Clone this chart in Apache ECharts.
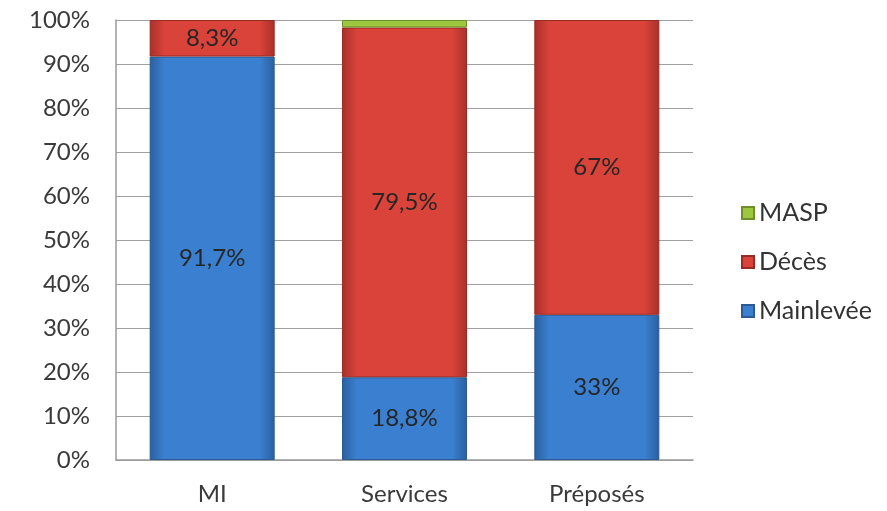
<!DOCTYPE html>
<html><head><meta charset="utf-8">
<script src="https://cdn.jsdelivr.net/npm/echarts@6/dist/echarts.min.js"></script>
<style>html,body{margin:0;padding:0;background:#fff}#c{width:887px;height:511px}</style>
</head><body><div id="c"></div>
<script>
const categories = ['MI', 'Services', 'Préposés'];
const mainlevee = [91.7, 18.8, 33];
const deces = [8.3, 79.5, 67];
const masp = [0, 1.7, 0];
const mainleveeLabels = ['91,7%', '18,8%', '33%'];
const decesLabels = ['8,3%', '79,5%', '67%'];
const yTicks = [0, 10, 20, 30, 40, 50, 60, 70, 80, 90, 100];

const grad = (m, d) => new echarts.graphic.LinearGradient(0, 0, 1, 0, [
  {offset: 0, color: d}, {offset: 0.12, color: m}, {offset: 0.88, color: m}, {offset: 1, color: d}
]);
const font = 'Lato, "Open Sans", sans-serif';
const chart = echarts.init(document.getElementById('c'));
const lbl = (arr) => ({show: true, position: 'inside', fontFamily: font, fontSize: 24, color: '#262626',
  formatter: p => arr[p.dataIndex]});
chart.setOption({
  animation: false,
  grid: {left: 116, right: 194, top: 20, bottom: 51},
  legend: {
    orient: 'vertical', left: 736, top: 195, itemGap: 23, itemWidth: 12, itemHeight: 12,
    icon: 'rect',
    textStyle: {fontFamily: font, fontSize: 25, lineHeight: 26, color: '#333'},
    data: ['MASP', 'Décès', 'Mainlevée']
  },
  xAxis: {
    type: 'category', data: categories,
    axisLine: {lineStyle: {color: '#9a9a9a', width: 1.5}},
    axisTick: {show: false},
    axisLabel: {fontFamily: font, fontSize: 24, color: '#3a3a3a', margin: 22}
  },
  yAxis: {
    type: 'value', min: 0, max: 100, interval: 10,
    axisLine: {show: true, lineStyle: {color: '#9a9a9a', width: 1.5}},
    axisTick: {show: false},
    splitLine: {lineStyle: {color: '#a0a0a0', width: 1.2}},
    axisLabel: {fontFamily: font, fontSize: 24, color: '#3a3a3a', margin: 26,
      formatter: v => yTicks.includes(v) ? v + '%' : ''}
  },
  series: [
    {name: 'Mainlevée', type: 'bar', stack: 's', barWidth: '65%', data: mainlevee,
      itemStyle: {color: grad('#3b80d0', '#2a5f9f'), borderColor: '#2a5b96', borderWidth: 1},
      label: lbl(mainleveeLabels)},
    {name: 'Décès', type: 'bar', stack: 's', data: deces,
      itemStyle: {color: grad('#d9433a', '#a8302a'), borderColor: '#9a2a24', borderWidth: 1},
      label: lbl(decesLabels)},
    {name: 'MASP', type: 'bar', stack: 's', data: masp.map(v => v > 0 ? v : '-'),
      itemStyle: {color: '#9dc73f', borderColor: '#6f8f2a', borderWidth: 1},
      label: {show: false}}
  ]
});
</script></body></html>
